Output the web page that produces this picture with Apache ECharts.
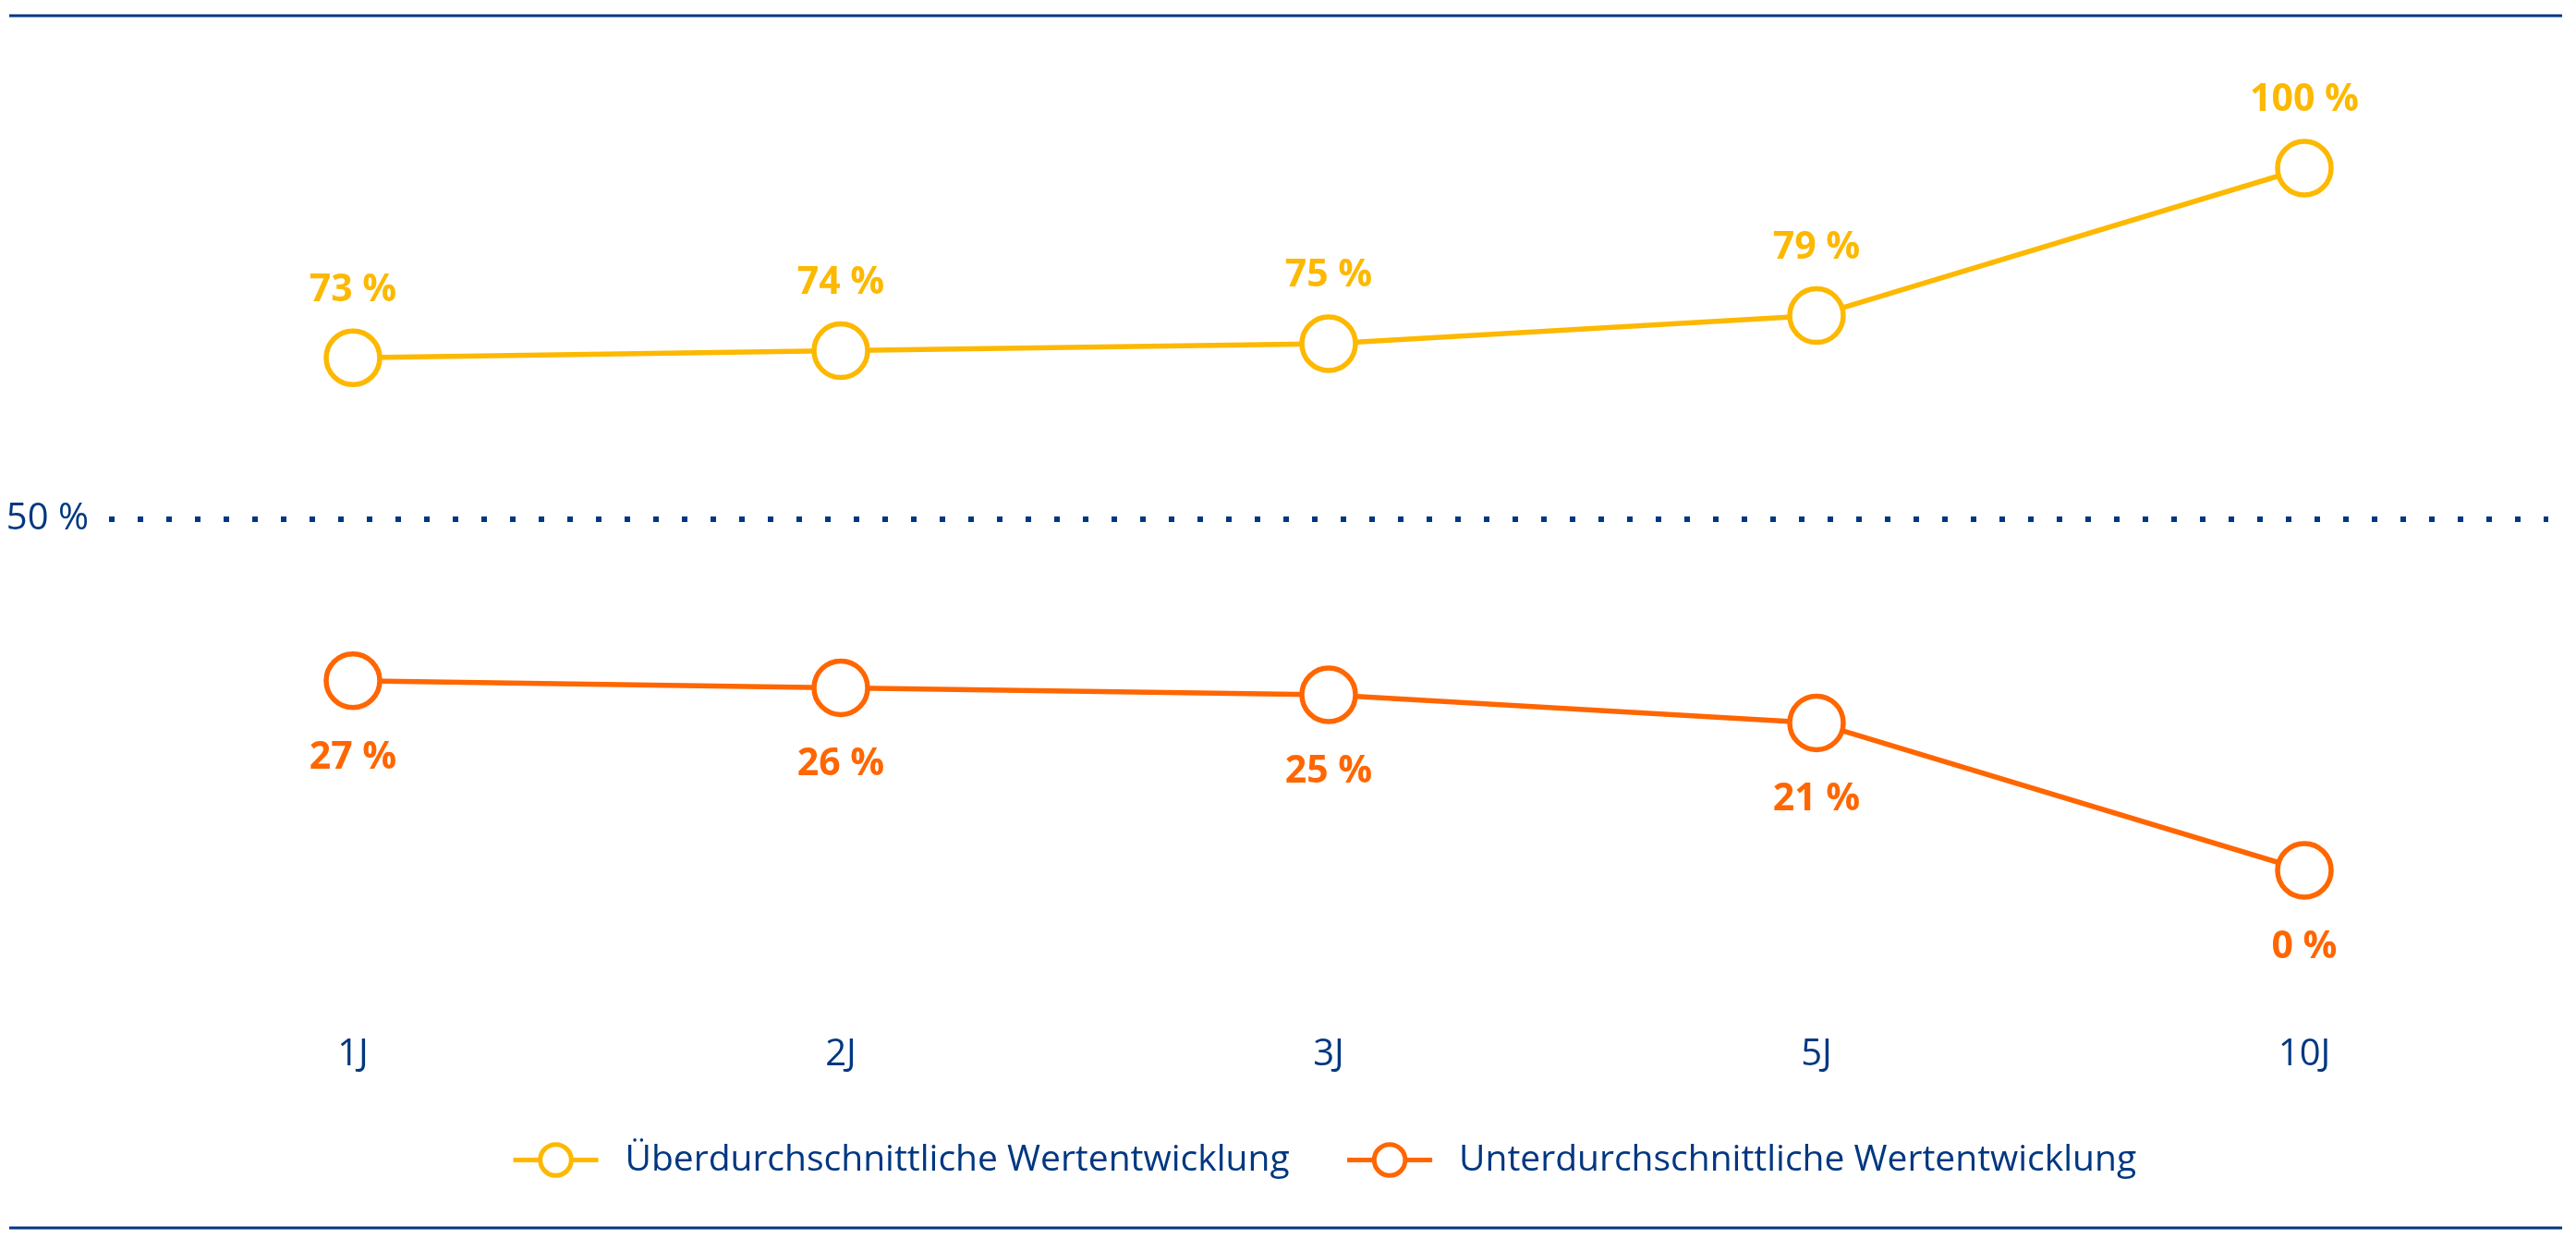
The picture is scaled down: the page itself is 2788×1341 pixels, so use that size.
<!DOCTYPE html>
<html>
<head>
<meta charset="utf-8">
<script src="https://cdn.jsdelivr.net/npm/echarts@6/dist/echarts.min.js"></script>
<style>
  html, body { margin: 0; padding: 0; background: #ffffff; }
  #chart { width: 2788px; height: 1341px; }
</style>
</head>
<body>
<div id="chart"></div>
<script>
// ---- data ----
const categories = ['1J', '2J', '3J', '5J', '10J'];
const aboveValues = [73, 74, 75, 79, 100];
const belowValues = [27, 26, 25, 21, 0];
const referenceLevel = 50;
const referenceLabel = '50 %';
const seriesNames = ['Überdurchschnittliche Wertentwicklung', 'Unterdurchschnittliche Wertentwicklung'];

// ---- styles ----
const BLUE = '#003781';
const YELLOW = '#FDB800';
const ORANGE = '#FF6600';
const FONT = '"Open Sans", "Noto Sans", sans-serif';

const pct = p => p.value + ' %';

function lineSeries(name, values, color, labelPos, dist) {
  return {
    name: name,
    type: 'line',
    data: values,
    symbol: 'circle',
    symbolSize: 58,
    showAllSymbol: true,
    lineStyle: { color: color, width: 5.5 },
    itemStyle: { color: '#ffffff', borderColor: color, borderWidth: 5.5 },
    label: {
      show: true,
      position: labelPos,
      distance: dist,
      formatter: pct,
      color: color,
      fontFamily: FONT,
      fontWeight: 'bold',
      fontSize: 41
    },
    emphasis: { disabled: true },
    z: 3
  };
}

const chart = echarts.init(document.getElementById('chart'), null, { renderer: 'canvas' });

const option = {
  animation: false,
  backgroundColor: '#ffffff',
  grid: { left: 118, right: 30, top: 182, bottom: 399, containLabel: false },
  xAxis: {
    type: 'category',
    data: categories,
    boundaryGap: true,
    axisLine: { show: false },
    axisTick: { show: false },
    splitLine: { show: false },
    axisLabel: {
      color: BLUE,
      fontFamily: FONT,
      fontSize: 40,
      margin: 200,
      verticalAlign: 'middle'
    }
  },
  yAxis: {
    type: 'value',
    min: 0,
    max: 100,
    show: false,
    splitLine: { show: false }
  },
  legend: {
    left: 548,
    top: 1231,
    itemWidth: 92,
    itemHeight: 42,
    itemGap: 60,
    selectedMode: false,
    lineStyle: { width: 5 },
    itemStyle: { borderWidth: 5 },
    textStyle: {
      color: BLUE,
      fontFamily: FONT,
      fontSize: 39,
      padding: [0, 0, 0, 24]
    },
    data: seriesNames
  },
  graphic: [
    { type: 'line', shape: { x1: 10, y1: 17, x2: 2773, y2: 17 }, style: { stroke: BLUE, lineWidth: 3 }, silent: true },
    { type: 'line', shape: { x1: 10, y1: 1329, x2: 2773, y2: 1329 }, style: { stroke: BLUE, lineWidth: 3 }, silent: true }
  ],
  series: [
    Object.assign(lineSeries(seriesNames[0], aboveValues, YELLOW, 'top', 21), {
      markLine: {
        silent: true,
        symbol: ['none', 'none'],
        lineStyle: { color: BLUE, type: [6, 25], width: 6, cap: 'butt', opacity: 1 },
        label: {
          show: true,
          position: 'start',
          distance: 22,
          formatter: referenceLabel,
          color: BLUE,
          fontFamily: FONT,
          fontSize: 40
        },
        emphasis: { disabled: true },
        data: [{ yAxis: referenceLevel }]
      }
    }),
    lineSeries(seriesNames[1], belowValues, ORANGE, 'bottom', 31)
  ]
};

chart.setOption(option);
</script>
</body>
</html>
